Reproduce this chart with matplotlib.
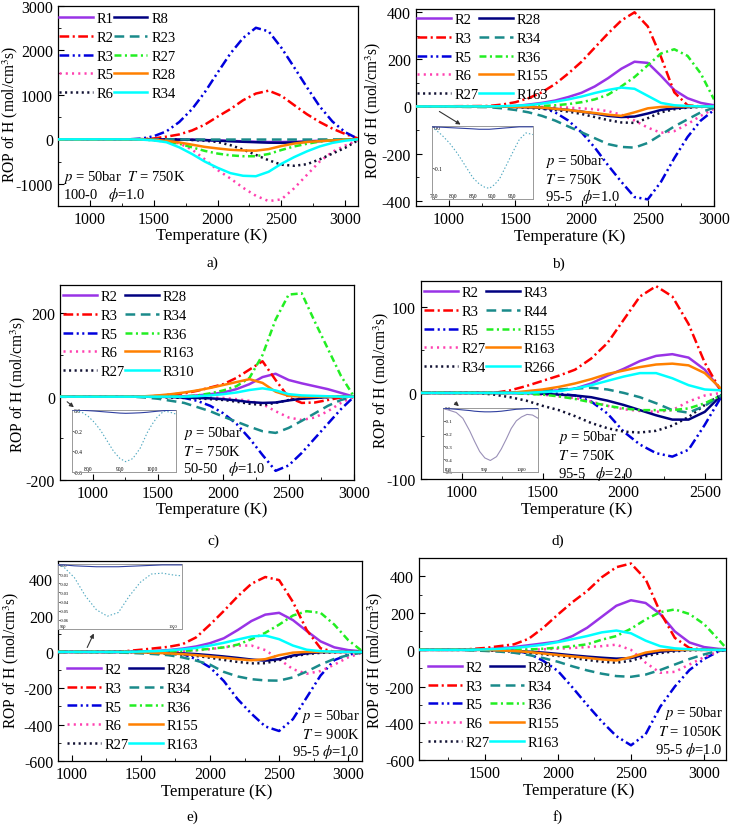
import matplotlib
matplotlib.use("Agg")
import matplotlib.pyplot as plt
from matplotlib.ticker import MultipleLocator, FormatStrFormatter

plt.rcParams['font.family'] = 'Liberation Serif'
plt.rcParams['mathtext.fontset'] = 'stix'
plt.rcParams['axes.unicode_minus'] = False
plt.rcParams['lines.scale_dashes'] = False

W, H = 732, 828

# line style per legend slot (col 1 = slots 0-4, col 2 = slots 5-9)
COLORS = ['#9933E6', '#FF0000', '#0000DD', '#FF40B0', '#111133',
          '#000080', '#1A8A8A', '#22EE22', '#FF8000', '#00FFFF']
DASHES = [None, (7, 2.5, 1.5, 2.5), (7, 2.5, 1.5, 2.5, 1.5, 2.5), (1.5, 3), (1.5, 2.5),
          None, (7, 4), (5, 2.5, 1.5, 2.5), None, None]

# ---------------- a) 100-0, phi=1.0, T=750K ----------------
a_T = [750, 1300, 1400, 1500, 1600, 1700, 1800, 1900, 2000, 2100, 2200, 2300, 2400, 2500, 2600, 2700, 2800, 2900, 3000, 3100]
a_labels = ['R1', 'R2', 'R3', 'R5', 'R6', 'R8', 'R23', 'R27', 'R28', 'R34']
a_R1 = [0, 0, 0, 0, -3, -6, -10, -15, -25, -35, -45, -55, -60, -60, -55, -45, -30, -20, -10, 0]
a_R2 = [0, 0, 5, 20, 60, 110, 200, 330, 510, 680, 880, 1030, 1095, 980, 770, 565, 390, 240, 120, 20]
a_R3 = [0, 0, 15, 70, 180, 390, 680, 1060, 1500, 1930, 2280, 2510, 2430, 2060, 1620, 1170, 740, 400, 160, 10]
a_R5 = [0, 0, -3, -15, -40, -90, -230, -450, -690, -880, -1090, -1270, -1390, -1350, -1100, -800, -500, -280, -140, -20]
a_R6 = [0, 0, 0, 0, -2, -5, -15, -30, -60, -130, -230, -350, -470, -570, -595, -560, -450, -320, -190, -20]
a_R8 = [0, 0, 0, 0, -3, -6, -10, -18, -30, -42, -55, -65, -75, -78, -70, -55, -40, -25, -10, 0]
a_R23 = [0, 0, 0, 0, 0, -2, -3, -5, -5, -5, -5, -5, -5, -5, -5, -5, -3, -2, -1, 0]
a_R27 = [0, 0, -5, -20, -50, -100, -180, -260, -320, -360, -380, -380, -330, -240, -160, -100, -50, -20, -5, 0]
a_R28 = [0, 0, -3, -10, -35, -70, -120, -170, -205, -235, -250, -255, -220, -150, -95, -60, -40, -25, -10, 0]
a_R34 = [0, 0, -5, -25, -65, -180, -330, -500, -640, -760, -820, -830, -730, -550, -400, -270, -160, -80, -30, 0]

# ---------------- b) 95-5, phi=1.0, T=750K ----------------
b_T = [750, 1300, 1400, 1500, 1600, 1700, 1800, 1900, 2000, 2100, 2200, 2300, 2400, 2500, 2600, 2700, 2800, 2900, 3000]
b_labels = ['R2', 'R3', 'R5', 'R6', 'R27', 'R28', 'R34', 'R36', 'R155', 'R163']
b_R2 = [0, 0, 0, 2, 8, 15, 25, 40, 58, 85, 120, 160, 190, 185, 130, 70, 35, 15, 5]
b_R3 = [0, 2, 8, 18, 35, 60, 95, 140, 190, 250, 310, 365, 400, 340, 210, 60, 5, 0, 0]
b_R5 = [0, 0, 0, 0, 0, -5, -25, -60, -110, -175, -250, -320, -385, -395, -320, -220, -130, -60, -15]
b_R6 = [0, 0, 0, 0, 0, -2, -3, -5, -8, -12, -20, -35, -60, -90, -112, -105, -75, -40, -10]
b_R27 = [0, 0, 0, -3, -6, -10, -15, -22, -32, -45, -58, -68, -70, -50, -25, -12, -5, -2, 0]
b_R28 = [0, 0, 0, -2, -4, -6, -10, -15, -22, -30, -40, -45, -43, -30, -15, -8, -3, -1, 0]
b_R34 = [0, -3, -8, -15, -25, -40, -60, -85, -110, -135, -160, -172, -175, -155, -120, -85, -55, -25, -5]
b_R36 = [0, 0, 0, 0, 0, 2, 5, 10, 18, 30, 50, 85, 125, 175, 225, 243, 215, 140, 30]
b_R155 = [0, 0, 0, -2, -3, -5, -10, -15, -22, -28, -35, -40, -25, -8, -2, 0, 0, 0, 0]
b_R163 = [0, 0, 1, 3, 6, 12, 20, 30, 42, 57, 70, 80, 75, 45, 15, 5, 2, 0, 0]
b_in_T = [745, 770, 790, 810, 830, 850, 866, 880, 892, 905, 918, 930, 943, 956, 969, 986, 1004]
b_in_big = [0, -0.02, -0.04, -0.065, -0.095, -0.125, -0.14, -0.148, -0.151, -0.142, -0.128, -0.105, -0.08, -0.055, -0.031, -0.015, -0.019]
b_in_small = [0, -0.001, -0.002, -0.003, -0.004, -0.005, -0.006, -0.006, -0.006, -0.005, -0.004, -0.003, -0.002, -0.001, 0, 0, 0]

# ---------------- c) 50-50, phi=1.0, T=750K ----------------
c_T = [750, 1300, 1400, 1500, 1600, 1700, 1800, 1900, 2000, 2100, 2200, 2300, 2400, 2500, 2600, 2700, 2800, 2900, 3000]
c_labels = ['R2', 'R3', 'R5', 'R6', 'R27', 'R28', 'R34', 'R36', 'R163', 'R310']
c_R2 = [0, 0, 0, 0, 0, 1, 3, 6, 10, 18, 30, 47, 55, 40, 32, 25, 18, 9, 0]
c_R3 = [0, 0, 0, 2, 5, 8, 14, 22, 30, 45, 65, 85, 40, -2, -15, -14, -8, -2, 0]
c_R5 = [0, 0, 0, 0, 0, -3, -10, -22, -40, -65, -100, -140, -178, -165, -135, -100, -65, -30, 0]
c_R6 = [0, 0, 0, 0, 0, 0, 0, -2, -3, -6, -10, -18, -35, -50, -56, -50, -35, -15, 0]
c_R27 = [0, 0, 0, -1, -2, -3, -4, -6, -8, -12, -17, -20, -15, -8, -4, -2, -1, 0, 0]
c_R28 = [0, 0, 0, 0, -1, -2, -3, -4, -6, -9, -13, -15, -14, -9, -5, -3, -1, 0, 0]
c_R34 = [0, 0, -2, -5, -10, -15, -25, -35, -48, -60, -72, -83, -87, -75, -58, -40, -22, -8, 0]
c_R36 = [0, 0, 0, 0, 0, 0, 3, 8, 15, 25, 45, 100, 185, 245, 248, 180, 115, 50, 0]
c_R163 = [0, 0, 1, 3, 6, 10, 15, 21, 28, 35, 42, 33, 12, 2, 0, 0, 0, 0, 0]
c_R310 = [0, 0, 0, 0, 0, 0, 1, 3, 6, 10, 16, 20, 15, 6, 3, 2, 1, 0, 0]
c_in_T = [750, 780, 800, 820, 840, 860, 880, 900, 918, 940, 963, 985, 1000, 1016, 1037, 1055, 1075]
c_in_big = [0, -0.02, -0.06, -0.12, -0.2, -0.3, -0.4, -0.47, -0.5, -0.47, -0.37, -0.22, -0.14, -0.07, -0.01, -0.02, -0.04]
c_in_small = [0, -0.003, -0.006, -0.01, -0.015, -0.02, -0.025, -0.03, -0.032, -0.03, -0.027, -0.022, -0.017, -0.012, -0.006, -0.003, 0]

# ---------------- d) 95-5, phi=2.0, T=750K ----------------
d_T = [750, 1100, 1200, 1300, 1400, 1500, 1600, 1700, 1800, 1900, 2000, 2100, 2200, 2300, 2400, 2500, 2600]
d_labels = ['R2', 'R3', 'R5', 'R27', 'R34', 'R43', 'R44', 'R155', 'R163', 'R266']
d_R2 = [0, 0, 0, 0, 0, 2, 3, 5, 11, 20, 28, 37, 43, 45, 41, 27, 3]
d_R3 = [0, 0, 0, 3, 8, 14, 20, 27, 40, 58, 85, 112, 124, 112, 80, 35, 2]
d_R5 = [0, 0, 0, 0, 0, 0, -1, -3, -10, -24, -45, -60, -70, -74, -66, -37, -5]
d_R27 = [0, 0, 0, 0, -1, -2, -4, -6, -10, -15, -19, -21, -22, -20, -10, -3, 0]
d_R34 = [0, 0, -2, -5, -9, -15, -20, -27, -35, -41, -45, -46, -44, -38, -28, -14, -2]
d_R43 = [0, 0, 0, 0, 0, -1, -2, -3, -5, -9, -14, -20, -26, -31, -31, -22, -3]
d_R44 = [0, 0, 0, 0, 1, 2, 4, 5, 6, 4, 0, -5, -12, -20, -23, -15, -3]
d_R155 = [0, 0, 0, 0, -1, -2, -4, -7, -11, -15, -18, -20, -20, -20, -18, -12, -3]
d_R163 = [0, 0, 0, 0, 2, 4, 7, 11, 16, 22, 26, 30, 33, 34, 32, 23, 5]
d_R266 = [0, 0, 0, 0, 0, 1, 2, 5, 9, 14, 19, 23, 23, 17, 9, 4, 3]
d_in_T = [786, 800, 822, 840, 859, 872, 886, 900, 915, 932, 945, 959, 972, 986, 1000, 1015, 1030, 1045]
d_in_big = [-0.005, -0.015, -0.035, -0.08, -0.18, -0.26, -0.34, -0.39, -0.41, -0.38, -0.32, -0.24, -0.16, -0.1, -0.07, -0.05, -0.055, -0.08]
d_in_small = [0, -0.005, -0.01, -0.015, -0.02, -0.025, -0.028, -0.03, -0.03, -0.028, -0.025, -0.02, -0.015, -0.01, -0.008, -0.005, -0.005, -0.005]

# ---------------- e) 95-5, phi=1.0, T=900K ----------------
e_T = [900, 1300, 1400, 1500, 1600, 1700, 1800, 1900, 2000, 2100, 2200, 2300, 2400, 2500, 2600, 2700, 2800, 2900, 3000, 3100]
e_labels = ['R2', 'R3', 'R5', 'R6', 'R27', 'R28', 'R34', 'R36', 'R155', 'R163']
e_R2 = [0, 0, 0, 2, 5, 10, 18, 30, 48, 75, 120, 170, 205, 215, 175, 115, 58, 25, 10, 3]
e_R3 = [0, 0, 5, 12, 20, 28, 42, 80, 150, 225, 305, 375, 412, 395, 275, 120, 20, 0, 0, 0]
e_R5 = [0, 0, 0, 0, 0, -2, -10, -40, -85, -160, -260, -340, -410, -435, -370, -250, -130, -45, -15, -2]
e_R6 = [0, 0, 0, 0, 0, 0, 3, 8, 15, 25, 35, 35, 10, -40, -95, -120, -105, -70, -30, -5]
e_R27 = [0, 0, 0, -3, -6, -10, -15, -22, -32, -44, -55, -63, -62, -45, -25, -12, -5, -2, 0, 0]
e_R28 = [0, 0, 0, 0, -2, -4, -8, -12, -18, -25, -33, -42, -48, -40, -20, -8, -2, 0, 0, 0]
e_R34 = [0, -2, -5, -8, -12, -18, -30, -48, -70, -110, -135, -150, -157, -158, -140, -108, -70, -38, -18, -3]
e_R36 = [0, 0, 0, 0, 0, 2, 5, 10, 17, 25, 40, 70, 105, 150, 200, 224, 215, 150, 65, 5]
e_R155 = [0, 0, 0, -2, -5, -8, -12, -18, -25, -32, -40, -46, -40, -18, -4, 0, 0, 0, 0, 0]
e_R163 = [0, 0, 0, 2, 4, 8, 14, 22, 35, 50, 68, 85, 90, 70, 35, 12, 4, 1, 0, 0]
e_in_T = [895, 900, 905, 910, 920, 930, 940, 950, 960, 970, 980, 990, 1000, 1008]
e_in_big = [0, -0.002, -0.008, -0.014, -0.034, -0.049, -0.056, -0.052, -0.034, -0.019, -0.01, -0.009, -0.011, -0.012]
e_in_small = [0, 0, -0.0005, -0.001, -0.0015, -0.002, -0.002, -0.002, -0.0015, -0.001, -0.0005, 0, 0, 0]

# ---------------- f) 95-5, phi=1.0, T=1050K ----------------
f_T = [1050, 1300, 1400, 1500, 1600, 1700, 1800, 1900, 2000, 2100, 2200, 2300, 2400, 2500, 2600, 2700, 2800, 2900, 3000, 3100, 3150]
f_labels = ['R2', 'R3', 'R5', 'R6', 'R27', 'R28', 'R34', 'R36', 'R155', 'R163']
f_R2 = [0, 0, 0, 3, 8, 15, 25, 35, 45, 75, 120, 180, 240, 270, 255, 195, 100, 40, 15, 5, 3]
f_R3 = [0, 0, 4, 10, 20, 30, 60, 120, 192, 260, 320, 395, 450, 470, 385, 205, 65, 10, 0, 0, 0]
f_R5 = [0, 0, 0, 0, 0, -3, -20, -60, -115, -205, -300, -390, -470, -520, -460, -310, -200, -110, -50, -8, -2]
f_R6 = [0, 0, 0, 0, 0, 0, 0, 3, 6, 10, 15, 20, 28, 0, -70, -125, -120, -80, -40, -8, -2]
f_R27 = [0, 0, 0, -3, -6, -10, -16, -24, -33, -44, -55, -65, -70, -60, -35, -18, -8, -3, 0, 0, 0]
f_R28 = [0, 0, 0, 0, -3, -6, -10, -15, -22, -30, -37, -43, -48, -45, -25, -10, -3, 0, 0, 0, 0]
f_R34 = [0, 0, -3, -6, -10, -16, -28, -45, -65, -90, -112, -130, -143, -147, -135, -110, -80, -50, -25, -5, -2]
f_R36 = [0, 0, 0, 0, 0, 0, 2, 6, 12, 20, 30, 55, 75, 115, 165, 205, 220, 195, 140, 55, 10]
f_R155 = [0, 0, 0, 0, -3, -6, -12, -20, -28, -36, -44, -52, -58, -40, -15, -3, 0, 0, 0, 0, 0]
f_R163 = [0, 0, 0, 2, 5, 10, 18, 28, 42, 58, 75, 95, 105, 90, 50, 20, 8, 3, 1, 0, 0]

fig = plt.figure(figsize=(W / 100, H / 100), dpi=100)


def fx(x):
    return x / W


def fy(y):
    return 1 - y / H


def px_axes(l, t, r, b):
    return fig.add_axes([fx(l), fy(b), (r - l) / W, (b - t) / H])


def draw_panel(box, T, labels, series, xlim, ylim, ystep, leg_xy, leg_loc):
    ax = px_axes(*box)
    for i, (lab, ys) in enumerate(zip(labels, series)):
        line, = ax.plot(T, ys, color=COLORS[i], lw=1.8, label=lab, zorder=4 if i == 9 else 3)
        if DASHES[i]:
            line.set_dashes(DASHES[i])
    ax.set_xlim(*xlim)
    ax.set_ylim(*ylim)
    ax.xaxis.set_major_locator(MultipleLocator(500))
    ax.xaxis.set_minor_locator(MultipleLocator(250))
    ax.yaxis.set_major_locator(MultipleLocator(ystep))
    ax.yaxis.set_minor_locator(MultipleLocator(ystep / 2))
    ax.tick_params(which='both', direction='in', top=False, right=False, labelsize=11.5)
    ax.tick_params(which='major', length=4)
    ax.tick_params(which='minor', length=2)
    for s in ax.spines.values():
        s.set_linewidth(0.9)
    ax.legend(loc=leg_loc, bbox_to_anchor=(fx(leg_xy[0]), fy(leg_xy[1])),
              bbox_transform=fig.transFigure, ncol=2, frameon=False, borderpad=0,
              borderaxespad=0, handlelength=2.3, handletextpad=0.3, columnspacing=0.0,
              labelspacing=0.38, fontsize=10.5)
    return ax


def draw_inset(box, T, big, small, xlim, ylim, xticks, yticks, fmt, big_color, big_dash, fs=4):
    ins = px_axes(*box)
    ins.plot(T, small, color='#3040A0', lw=0.8, zorder=3)
    line, = ins.plot(T, big, color=big_color, lw=0.8)
    if big_dash:
        line.set_dashes(big_dash)
    ins.set_xlim(*xlim)
    ins.set_ylim(*ylim)
    ins.set_xticks(xticks)
    ins.set_yticks(yticks)
    ins.yaxis.set_major_formatter(FormatStrFormatter(fmt))
    ins.tick_params(direction='in', labelsize=fs, length=1.5, width=0.4, pad=-1)
    for lab in ins.get_yticklabels():
        lab.set_ha('left')
    for lab in ins.get_xticklabels():
        lab.set_va('bottom')
    for s in ins.spines.values():
        s.set_color('#999999')
        s.set_linewidth(0.7)
    return ins


def texts(lines, x, ys, ha='left'):
    for s, y in zip(lines, ys):
        fig.text(fx(x), fy(y), s, ha=ha, va='center', fontsize=10.5)


def arrow(x0, y0, x1, y1):
    fig.add_artist(matplotlib.patches.FancyArrowPatch(
        (fx(x0), fy(y0)), (fx(x1), fy(y1)), transform=fig.transFigure,
        arrowstyle='-|>', mutation_scale=6, lw=0.8, color='#333333', zorder=10))


YLAB = 'ROP of H (mol/cm$^3$s)'

# a)
draw_panel((58, 7, 358, 207), a_T, a_labels,
           [a_R1, a_R2, a_R3, a_R5, a_R6, a_R8, a_R23, a_R27, a_R28, a_R34],
           (750, 3100), (-1500, 3000), 1000, (59, 13), 'upper left')
texts(['$p$ = 50bar  $T$ = 750K', '100-0   $\\phi$=1.0'], 63, [177, 195])

# b)
draw_panel((416, 10, 714, 207), b_T, b_labels,
           [b_R2, b_R3, b_R5, b_R6, b_R27, b_R28, b_R34, b_R36, b_R155, b_R163],
           (750, 3000), (-423, 414), 200, (417, 14), 'upper left')
draw_inset((432, 127, 533, 200), b_in_T, b_in_big, b_in_small, (745, 1004), (-0.177, 0.002),
           [750, 800, 850, 900, 950], [0.0, -0.1], '%.1f', '#4FA8C0', (1, 1.5))
texts(['$p$ = 50bar', '$T$ = 750K', '95-5   $\\phi$=1.0'], 545, [162, 180, 197])
arrow(437, 111, 463, 127)

# c)
draw_panel((60, 286, 354, 481), c_T, c_labels,
           [c_R2, c_R3, c_R5, c_R6, c_R27, c_R28, c_R34, c_R36, c_R163, c_R310],
           (750, 3000), (-200, 268), 200, (63, 291), 'upper left')
draw_inset((72, 411, 176, 473), c_in_T, c_in_big, c_in_small, (750, 1075), (-0.6, 0.0),
           [800, 900, 1000], [0.0, -0.2, -0.4, -0.6], '%.1f', '#4FA8C0', (1, 1.5))
texts(['$p$ = 50bar', '$T$ = 750K', '50-50   $\\phi$=1.0'], 183, [434, 452, 469.5])
arrow(65, 401, 76, 410)

# d)
draw_panel((421, 282, 721, 480), d_T, d_labels,
           [d_R2, d_R3, d_R5, d_R27, d_R34, d_R43, d_R44, d_R155, d_R163, d_R266],
           (750, 2600), (-100, 130), 100, (424, 287), 'upper left')
draw_inset((443, 409, 538, 473), d_in_T, d_in_big, d_in_small, (786, 1045), (-0.5, 0.0),
           [800, 900, 1000], [0.0, -0.1, -0.2, -0.3, -0.4, -0.5], '%.1f', '#9A90B8', None, fs=3.5)
texts(['$p$ = 50bar', '$T$ = 750K', '95-5   $\\phi$=2.0'], 558, [438, 456, 474])
arrow(453, 402, 461, 409)

# e)
draw_panel((58, 562, 362, 762), e_T, e_labels,
           [e_R2, e_R3, e_R5, e_R6, e_R27, e_R28, e_R34, e_R36, e_R155, e_R163],
           (900, 3100), (-600, 500), 200, (67, 752), 'lower left')
draw_inset((58, 565, 182, 630), e_in_T, e_in_big, e_in_small, (895, 1008), (-0.07, 0.001),
           [900, 1000], [0.0, -0.01, -0.02, -0.03, -0.04, -0.05, -0.06], '%.2f', '#4FA8C0', (1, 1.5), fs=3.2)
texts(['$p$ = 50bar', '$T$ = 900K', '95-5 $\\phi$=1.0'], 360, [717, 735, 752], ha='right')
arrow(86, 651, 95, 632)

# f)
draw_panel((419, 559, 726, 761), f_T, f_labels,
           [f_R2, f_R3, f_R5, f_R6, f_R27, f_R28, f_R34, f_R36, f_R155, f_R163],
           (1050, 3150), (-600, 500), 200, (428, 750), 'lower left')
texts(['$p$ = 50bar', '$T$ = 1050K', '95-5 $\\phi$=1.0'], 723, [713, 732, 750], ha='right')

# axis titles and panel letters
for xc, yx, xl, yc in [(212, 236, 10, 114), (570, 237, 373, 110),
                       (212, 510, 18, 384), (577, 510, 381, 380),
                       (217, 792, 11, 660), (579, 791, 375, 660)]:
    fig.text(fx(xc), fy(yx), 'Temperature (K)', ha='center', va='center', fontsize=12)
    fig.text(fx(xl), fy(yc), YLAB, ha='center', va='center', rotation=90, fontsize=11.2)
for tag, x, y in [('a)', 212, 263), ('b)', 558, 264), ('c)', 213, 541),
                  ('d)', 558, 541), ('e)', 192, 817), ('f)', 558, 817)]:
    fig.text(fx(x), fy(y), tag, ha='center', va='center', fontsize=11)

fig.savefig('out.png', dpi=100)
